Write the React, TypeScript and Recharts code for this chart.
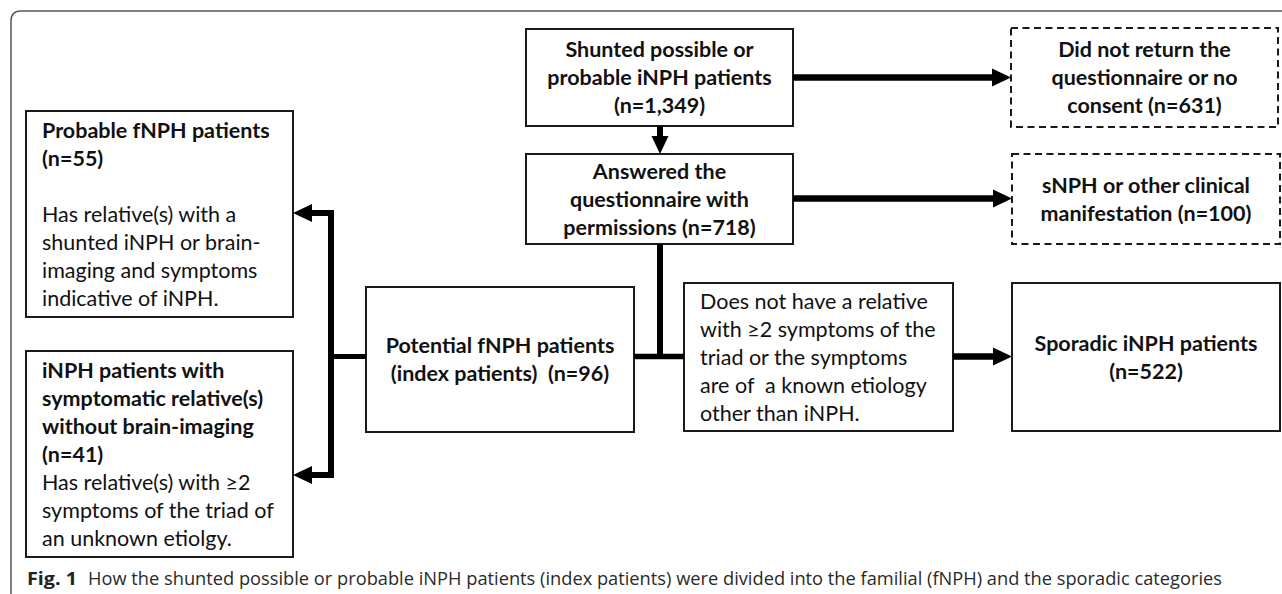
import React from 'react';
import { ComposedChart, XAxis, YAxis, ReferenceArea, ReferenceLine, Scatter } from 'recharts';

const W = 1282;
const H = 594;
const FONT = 'Lato, "Open Sans", sans-serif';
const LINE_H = 28;

const boxIds = ['shunted', 'noReturn', 'answered', 'sNPH', 'probable', 'symptomatic', 'potential', 'noRelative', 'sporadic'];

const n = (v: number) => `(n=${v.toLocaleString('en-US')})`;

// text of each box: [text, bold]
const boxText: [string, boolean][][] = [
  [['Shunted possible or', true], ['probable iNPH patients', true], [n(1349), true]],
  [['Did not return the', true], ['questionnaire or no', true], [`consent ${n(631)}`, true]],
  [['Answered the', true], ['questionnaire with', true], [`permissions ${n(718)}`, true]],
  [['sNPH or other clinical', true], [`manifestation ${n(100)}`, true]],
  [
    ['Probable fNPH patients', true], [n(55), true], ['', false],
    ['Has relative(s) with a', false], ['shunted iNPH or brain-', false],
    ['imaging and symptoms', false], ['indicative of iNPH.', false],
  ],
  [
    ['iNPH patients with', true], ['symptomatic relative(s)', true], ['without brain-imaging', true], [n(41), true],
    ['Has relative(s) with \u22652', false], ['symptoms of the triad of', false], ['an unknown etiolgy.', false],
  ],
  [['Potential fNPH patients', true], [`(index patients)  ${n(96)}`, true]],
  [
    ['Does not have a relative', false], ['with \u22652 symptoms of the', false], ['triad or the symptoms', false],
    ['are of  a known etiology', false], ['other than iNPH.', false],
  ],
  [['Sporadic iNPH patients', true], [n(522), true]],
];

// layout in diagram units: [x0, y0, x1, y1]
const boxFrames = [
  [526, 29, 793, 126],
  [1011, 28, 1278, 127],
  [526, 154, 793, 244],
  [1012, 154, 1280, 244],
  [26, 111, 293, 317],
  [26, 351, 293, 557],
  [366, 287, 634, 432],
  [684, 283, 953, 431],
  [1012, 283, 1280, 431],
];
const dashedBoxes = ['noReturn', 'sNPH'];
const leftAligned = ['probable', 'symptomatic', 'noRelative'];

// connector segments: [x1, y1, x2, y2, width]
const connectors = [
  [793, 77.5, 996, 77.5, 6.5],
  [660, 126, 660, 140, 6],
  [793, 198.5, 997, 198.5, 6.5],
  [660, 244, 660, 359, 6],
  [634, 356.5, 684, 356.5, 5.5],
  [953, 356.5, 997, 356.5, 6.5],
  [329, 356.5, 366, 356.5, 5],
  [331, 210, 331, 478, 6],
  [331, 213, 308, 213, 6],
  [331, 475, 308, 475, 6],
];

// arrow tips
const arrowTips = [
  { x: 1011, y: 77.5, dir: 'right' },
  { x: 660, y: 154, dir: 'down' },
  { x: 1012, y: 198.5, dir: 'right' },
  { x: 1012, y: 356.5, dir: 'right' },
  { x: 293, y: 213, dir: 'left' },
  { x: 293, y: 475, dir: 'left' },
];

const captionBold = 'Fig. 1';
const captionText =
  'How the shunted possible or probable iNPH patients (index patients) were divided into the familial (fNPH) and the sporadic categories';

const ArrowHead = (props: any) => {
  const { cx, cy, payload } = props;
  const L = 19;
  const h = 9;
  let pts = '';
  if (payload.dir === 'right') pts = `${cx},${cy} ${cx - L},${cy - h} ${cx - L},${cy + h}`;
  if (payload.dir === 'left') pts = `${cx},${cy} ${cx + L},${cy - h} ${cx + L},${cy + h}`;
  if (payload.dir === 'down') pts = `${cx},${cy} ${cx - 8.5},${cy - 18} ${cx + 8.5},${cy - 18}`;
  return <polygon points={pts} fill="#000" />;
};

const makeBoxShape = (idx: number) => (props: any) => {
  const { x, y, width, height } = props;
  const id = boxIds[idx];
  const dashed = dashedBoxes.includes(id);
  const left = leftAligned.includes(id);
  const lines = boxText[idx];
  const cy = y + height / 2;
  return (
    <g>
      <rect
        x={x}
        y={y}
        width={width}
        height={height}
        fill="#fff"
        stroke="#1a1a1a"
        strokeWidth={2}
        strokeDasharray={dashed ? '7 4.5' : undefined}
      />
      {lines.map(([t, b], i) => (
        <text
          key={i}
          x={left ? x + 16 : x + width / 2}
          y={cy + (i - (lines.length - 1) / 2) * LINE_H + 7.5}
          textAnchor={left ? 'start' : 'middle'}
          fontFamily={FONT}
          fontSize={21.5}
          fontWeight={b ? 700 : 400}
          fill="#111"
          style={{ whiteSpace: 'pre' }}
        >
          {t}
        </text>
      ))}
    </g>
  );
};

const FrameShape = (props: any) => {
  const { x, y, width, height } = props;
  const r = 10;
  return (
    <path
      d={`M${x} ${y + height} V${y + r} Q${x} ${y} ${x + r} ${y} H${x + width}`}
      fill="none"
      stroke="#555"
      strokeWidth={1.5}
    />
  );
};

export default function App() {
  return (
    <div style={{ width: W, height: H, overflow: 'hidden', position: 'relative', background: '#fff' }}>
      <style>{`html,body{margin:0;padding:0;overflow:hidden;background:#fff}`}</style>
      <ComposedChart width={W} height={H} margin={{ top: 0, right: 0, bottom: 0, left: 0 }}>
        <XAxis type="number" dataKey="x" domain={[0, W]} hide allowDataOverflow />
        <YAxis type="number" dataKey="y" domain={[0, H]} reversed hide allowDataOverflow />
        <ReferenceArea x1={11} x2={W} y1={11} y2={H} shape={FrameShape} />
        {boxFrames.map(([x0, y0, x1, y1], i) => (
          <ReferenceArea key={boxIds[i]} x1={x0} x2={x1} y1={y0} y2={y1} shape={makeBoxShape(i)} />
        ))}
        {connectors.map(([x1, y1, x2, y2, w], i) => (
          <ReferenceLine
            key={`c${i}`}
            segment={[{ x: x1, y: y1 }, { x: x2, y: y2 }]}
            stroke="#000"
            strokeWidth={w}
          />
        ))}
        <Scatter data={arrowTips} dataKey="y" shape={ArrowHead} isAnimationActive={false} />
      </ComposedChart>
      <svg width={W} height={H} style={{ position: 'absolute', left: 0, top: 0, pointerEvents: 'none' }}>
        <text x={27} y={585} fontFamily='"Open Sans", sans-serif' fontSize={18} fontWeight={700} fill="#222" textLength={50} lengthAdjust="spacingAndGlyphs">
          {captionBold}
        </text>
        <text x={88} y={585} fontFamily='"Open Sans", sans-serif' fontSize={18} fill="#2a2a2a" textLength={1134} lengthAdjust="spacingAndGlyphs">
          {captionText}
        </text>
      </svg>
    </div>
  );
}
